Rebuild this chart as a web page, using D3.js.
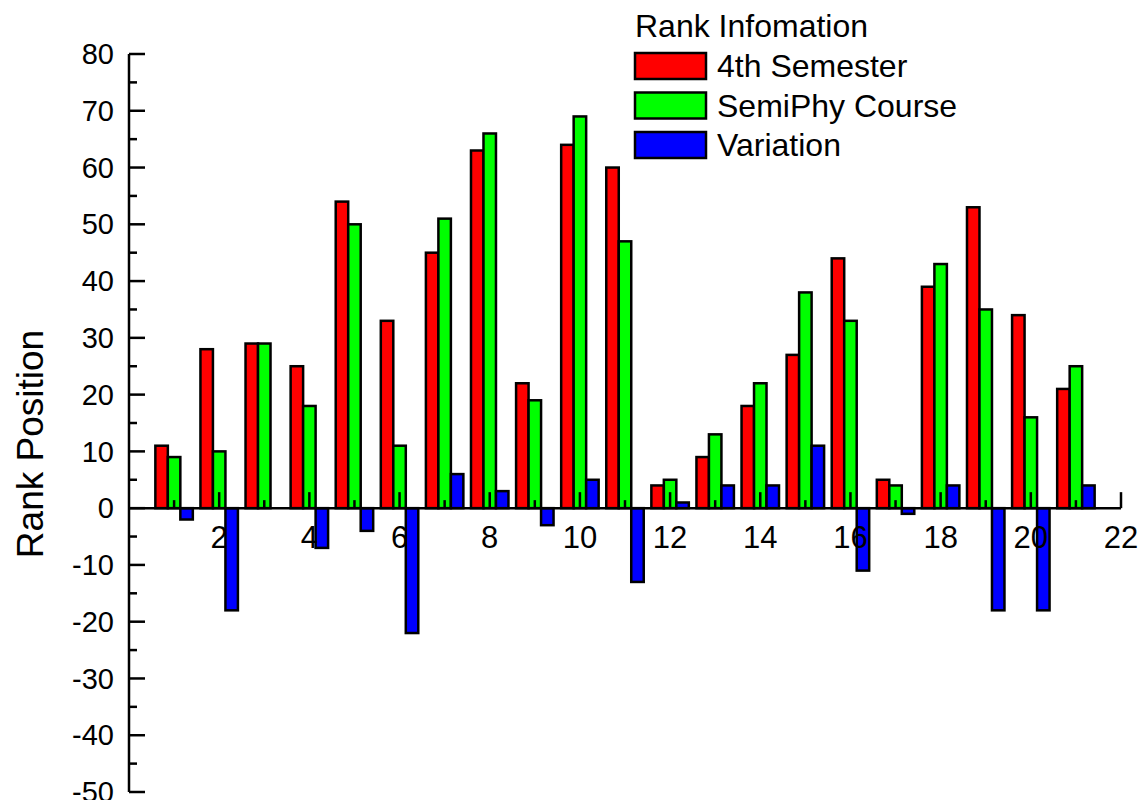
<!DOCTYPE html>
<html>
<head>
<meta charset="utf-8">
<script src="https://cdn.jsdelivr.net/npm/d3@7"></script>
<style>
    body { margin: 0; background: #fff; }
    text { font-family: "Liberation Sans", Arial, sans-serif; fill: #000; }
</style>
</head>
<body>
<svg id="chart" width="1144" height="800"></svg>
<script>
// data
var positions = [1, 2, 3, 4, 5, 6, 7, 8, 9, 10, 11, 12, 13, 14, 15, 16, 17, 18, 19, 20, 21];
var semester4 = [11, 28, 29, 25, 54, 33, 45, 63, 22, 64, 60, 4, 9, 18, 27, 44, 5, 39, 53, 34, 21];
var semiPhy = [9, 10, 29, 18, 50, 11, 51, 66, 19, 69, 47, 5, 13, 22, 38, 33, 4, 43, 35, 16, 25];
var variation = [-2, -18, 0, -7, -4, -22, 6, 3, -3, 5, -13, 1, 4, 4, 11, -11, -1, 4, -18, -18, 4];
var seriesNames = ["4th Semester", "SemiPhy Course", "Variation"];
var seriesColors = ["#ff0000", "#00ff00", "#0000ff"];
var xTicks = [2, 4, 6, 8, 10, 12, 14, 16, 18, 20, 22];
var yTicks = [-50, -40, -30, -20, -10, 0, 10, 20, 30, 40, 50, 60, 70, 80];

var svg = d3.select("#chart");

var x = d3.scaleLinear().domain([0, 22]).range([129, 1121]);
var y = d3.scaleLinear().domain([-50, 80]).range([792, 54]);

var barW = 0.277;
var offsets = [-barW, 0, barW];
var allSeries = [semester4, semiPhy, variation];
var lineW = 2.5;

// bars
allSeries.forEach(function (values, s) {
    svg.append("g")
        .selectAll("rect")
        .data(values)
        .enter()
        .append("rect")
        .attr("x", function (d, i) { return x(positions[i] + offsets[s] - barW / 2); })
        .attr("width", x(barW) - x(0))
        .attr("y", function (d) { return y(Math.max(d, 0)); })
        .attr("height", function (d) { return Math.abs(y(d) - y(0)); })
        .style("fill", seriesColors[s])
        .style("stroke", "#000")
        .style("stroke-width", lineW);
});

// x axis on the zero line, ticks pointing up
var xAxis = svg.append("g").attr("transform", "translate(0," + y(0) + ")");
xAxis.append("line")
    .attr("x1", x(0)).attr("x2", x(22))
    .style("stroke", "#000").style("stroke-width", lineW);
xAxis.selectAll(".xminor")
    .data(d3.range(1, 23))
    .enter().append("line")
    .attr("x1", function (d) { return x(d); })
    .attr("x2", function (d) { return x(d); })
    .attr("y1", 0)
    .attr("y2", function (d) { return d % 2 === 0 ? -16 : -8; })
    .style("stroke", "#000").style("stroke-width", lineW);
xAxis.selectAll(".xlabel")
    .data(xTicks)
    .enter().append("text")
    .attr("x", function (d) { return x(d); })
    .attr("y", 40)
    .attr("text-anchor", "middle")
    .style("font-size", "31px")
    .text(function (d) { return d; });

// y axis
var yAxis = svg.append("g").attr("transform", "translate(" + x(0) + ",0)");
yAxis.append("line")
    .attr("y1", y(-50)).attr("y2", y(80))
    .style("stroke", "#000").style("stroke-width", lineW);
yAxis.selectAll(".ytick")
    .data(d3.range(-50, 81, 5))
    .enter().append("line")
    .attr("y1", function (d) { return y(d); })
    .attr("y2", function (d) { return y(d); })
    .attr("x1", 0)
    .attr("x2", function (d) { return d % 10 === 0 ? 16 : 8; })
    .style("stroke", "#000").style("stroke-width", lineW);
yAxis.selectAll(".ylabel")
    .data(yTicks)
    .enter().append("text")
    .attr("x", -15)
    .attr("y", function (d) { return y(d); })
    .attr("dy", "0.35em")
    .attr("text-anchor", "end")
    .style("font-size", "29px")
    .text(function (d) { return d; });

svg.append("text")
    .attr("transform", "translate(43,444) rotate(-90)")
    .attr("text-anchor", "middle")
    .style("font-size", "37px")
    .text("Rank Position");

// legend
var legend = svg.append("g").attr("transform", "translate(635,0)");
legend.append("text")
    .attr("x", 0)
    .attr("y", 37)
    .style("font-size", "32px")
    .text("Rank Infomation");

var items = legend.selectAll(".item")
    .data(seriesNames)
    .enter().append("g")
    .attr("transform", function (d, i) { return "translate(0," + (53 + i * 39.5) + ")"; });
items.append("rect")
    .attr("width", 71)
    .attr("height", 26)
    .style("fill", function (d, i) { return seriesColors[i]; })
    .style("stroke", "#000")
    .style("stroke-width", lineW);
items.append("text")
    .attr("x", 82)
    .attr("y", 24)
    .style("font-size", "32px")
    .text(function (d) { return d; });
</script>
</body>
</html>
